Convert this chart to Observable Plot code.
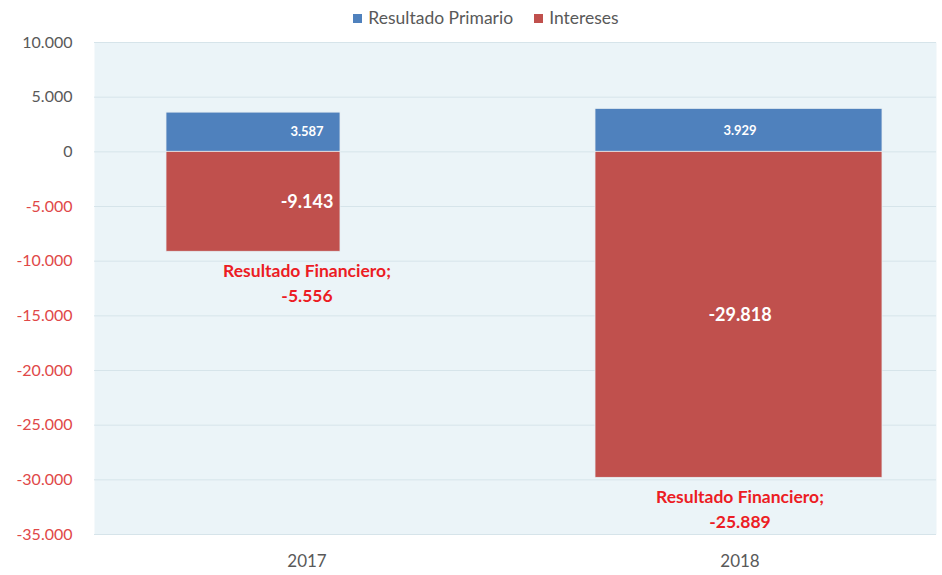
<!DOCTYPE html>
<html>
<head>
<meta charset="utf-8">
<script src="https://cdn.jsdelivr.net/npm/d3@7"></script>
<script src="https://cdn.jsdelivr.net/npm/@observablehq/plot@0.6"></script>
<style>
  body { margin: 0; background: #ffffff; font-family: Lato, "Open Sans", sans-serif; }
  #legend { height: 26px; display: flex; justify-content: center; align-items: flex-end; gap: 21px; font-size: 17.5px; color: #595959; padding-left: 30px; box-sizing: border-box; line-height: 1; padding-bottom: 0; }
  #legend span.sw { display: inline-block; width: 9px; height: 9px; margin-right: 6px; vertical-align: middle; position: relative; top: -1px; }
</style>
</head>
<body>
<div id="legend"></div>
<div id="chart"></div>
<script>
const years = ["2017", "2018"];
const resultadoPrimario = [3587, 3929];
const intereses = [-9143, -29818];
const resultadoFinanciero = [-5556, -25889];
const seriesNames = ["Resultado Primario", "Intereses"];
const seriesColors = ["#4f81bd", "#c0504d"];
const yTicksPos = [0, 5000, 10000];
const yTicksNeg = [-35000, -30000, -25000, -20000, -15000, -10000, -5000];

const loc = d3.formatLocale({decimal: ",", thousands: ".", grouping: [3], currency: ["", ""], minus: "-"});
const fmt = loc.format(",d");

// legend
const legend = document.getElementById("legend");
seriesNames.forEach((n, i) => {
  const s = document.createElement("span");
  s.innerHTML = `<span class="sw" style="background:${seriesColors[i]}"></span>${n}`;
  legend.appendChild(s);
});

const rows = [];
years.forEach((y, i) => {
  rows.push({year: y, serie: seriesNames[0], value: resultadoPrimario[i]});
  rows.push({year: y, serie: seriesNames[1], value: intereses[i]});
});
const fin = years.map((y, i) => ({year: y, value: resultadoFinanciero[i], bottom: intereses[i]}));

const insets = {"2017": [76, 183], "2018": [72, 74]};

const barMarks = years.map(y => Plot.barY(rows.filter(r => r.year === y), {
  x: "year", y: "value", fill: d => seriesColors[seriesNames.indexOf(d.serie)],
  insetLeft: insets[y][0], insetRight: insets[y][1],
  stroke: "#e6eef2", strokeWidth: 0.8
}));

const chart = Plot.plot({
  width: 942,
  height: 549,
  marginTop: 16,
  marginBottom: 41,
  marginLeft: 94,
  marginRight: 6,
  style: {fontFamily: "Lato, 'Open Sans', sans-serif", fontSize: "16px", background: "transparent", overflow: "visible"},
  x: {domain: years, range: [90, 956], padding: 0, label: null},
  y: {domain: [-35000, 10000], label: null},
  marks: [
    Plot.frame({fill: "#ebf4f8", stroke: null}),
    Plot.gridY({ticks: yTicksPos.concat(yTicksNeg), stroke: "#d6e4ea", strokeOpacity: 1, strokeWidth: 1}),
    ...barMarks,
    Plot.axisY({ticks: yTicksPos, tickSize: 0, tickPadding: 22, tickFormat: fmt, fill: "#595959", fontSize: 16, label: null}),
    Plot.axisY({ticks: yTicksNeg, tickSize: 0, tickPadding: 22, tickFormat: fmt, fill: "#e04848", fontSize: 16, label: null}),
    Plot.axisX({tickSize: 0, tickPadding: 20, fill: "#595959", fontSize: 17, label: null}),
    Plot.text(rows.filter(r => r.serie === seriesNames[0]), {
      x: "year", y: d => d.value / 2, text: d => fmt(d.value), fill: "white", fontWeight: "bold", fontSize: 13
    }),
    Plot.text(rows.filter(r => r.serie === seriesNames[1]), {
      x: "year", y: d => d.value / 2, text: d => fmt(d.value), fill: "white", fontWeight: "bold", fontSize: 18
    }),
    Plot.text(fin, {
      x: "year", y: "bottom", text: d => "Resultado Financiero;\n" + fmt(d.value),
      fill: "#ec1c24", fontWeight: "bold", fontSize: 17.5, lineAnchor: "top", lineHeight: 1.43, dy: 7
    })
  ]
});
document.getElementById("chart").appendChild(chart);
</script>
</body>
</html>
